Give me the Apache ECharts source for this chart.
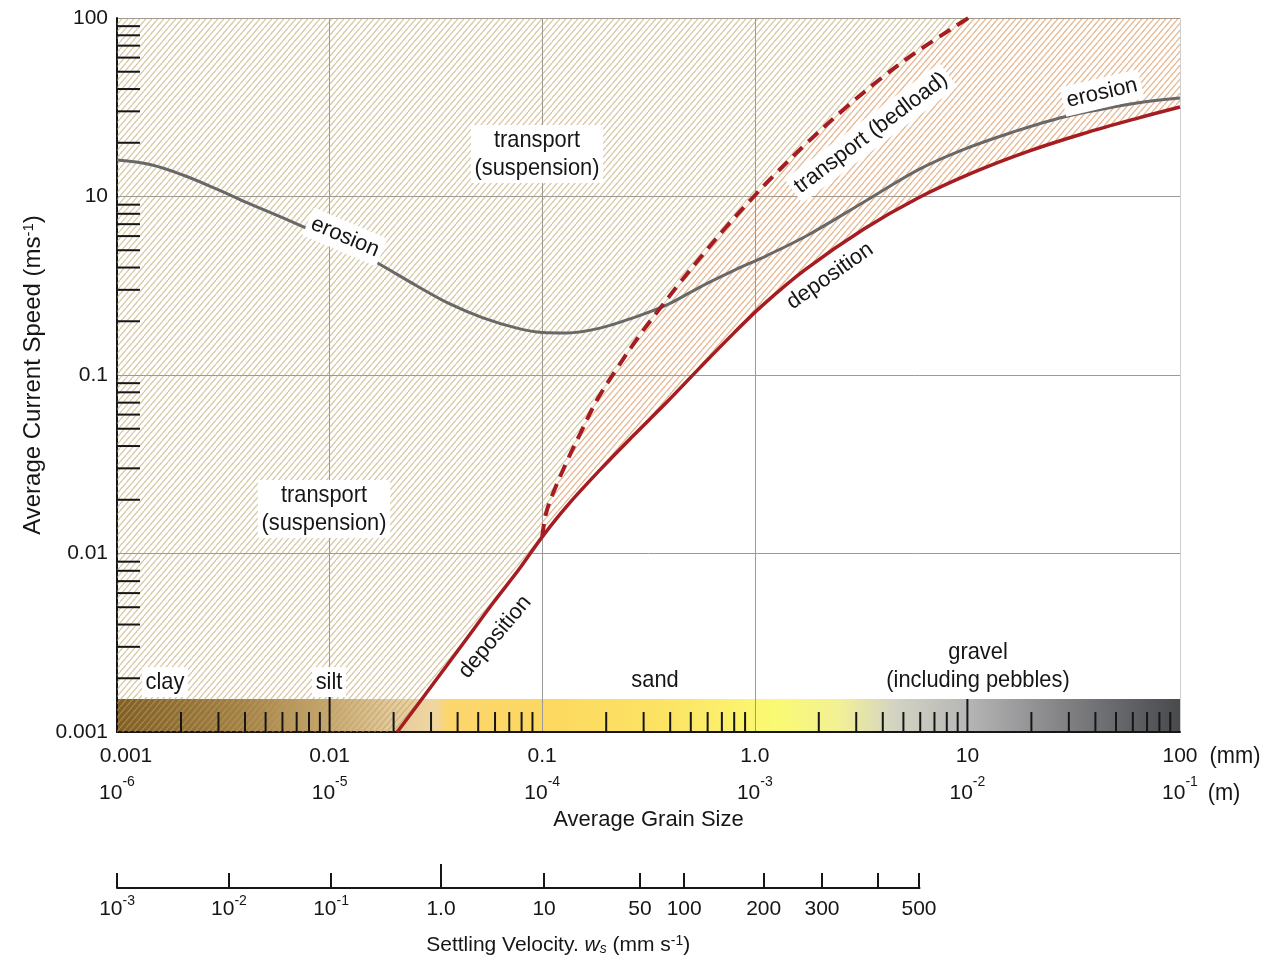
<!DOCTYPE html>
<html>
<head>
<meta charset="utf-8">
<title>Hjulström diagram</title>
<script src="https://cdn.jsdelivr.net/npm/echarts@6/dist/echarts.min.js"></script>
<style>
  html, body { margin: 0; padding: 0; background: #fff; }
  #chart { width: 1271px; height: 961px; }
</style>
</head>
<body>
<div id="chart"></div>
<script>
// grain size (mm) / current speed pairs
const erosionSize = [0.001, 0.00143, 0.00204, 0.00295, 0.00422, 0.00604, 0.00873, 0.0125, 0.0178, 0.0258, 0.0368, 0.0527, 0.0761, 0.1, 0.131, 0.187, 0.267, 0.386, 0.552, 0.79, 1.14, 1.8, 3.26, 5.86, 9.43, 15.9, 28.5, 62.8, 100];
const erosionSpeed = [1.6, 1.51, 1.32, 1.1, 0.908, 0.758, 0.625, 0.518, 0.408, 0.315, 0.25, 0.209, 0.183, 0.173, 0.172, 0.183, 0.209, 0.247, 0.311, 0.383, 0.467, 0.613, 0.932, 1.41, 1.82, 2.27, 2.79, 3.34, 3.56];

const depositSize = [0.0208, 0.0306, 0.0443, 0.0587, 0.0786, 0.1, 0.131, 0.187, 0.267, 0.386, 0.552, 0.79, 1.08, 1.72, 3.26, 5.86, 10.6, 19.3, 34.6, 62.8, 100];
const depositSpeed = [0.001, 0.00185, 0.00335, 0.00528, 0.00829, 0.0124, 0.0185, 0.0294, 0.0455, 0.0706, 0.11, 0.17, 0.244, 0.388, 0.657, 0.981, 1.36, 1.79, 2.24, 2.74, 3.17];

const bedloadSize = [0.1, 0.104, 0.112, 0.131, 0.151, 0.181, 0.225, 0.279, 0.347, 0.445, 0.552, 0.74, 0.99, 1.22, 1.8, 2.69, 3.97, 5.86, 10.1];
const bedloadSpeed = [0.0124, 0.0166, 0.0215, 0.033, 0.047, 0.0724, 0.109, 0.159, 0.225, 0.329, 0.452, 0.683, 1.0, 1.3, 2.05, 3.16, 4.64, 6.54, 10];

// axis ticks and labels
const grainMm = ['0.001', '0.01', '0.1', '1.0', '10', '100'];
const grainMExp = ['-6', '-5', '-4', '-3', '-2', '-1'];
const speedLabels = ['0.001', '0.01', '0.1', '10', '100'];
const speedDecades = [0.001, 0.01, 0.1, 1];
const grainDecades = [0.001, 0.01, 0.1, 1, 10];
const minorSteps = [2, 3, 4, 5, 6, 7, 8, 9];
const grainTallTicks = [0.01, 10];

// settling velocity scale, placed against grain size
const settleGrain = [0.001, 0.00336, 0.01015, 0.0334, 0.102, 0.288, 0.465, 1.10, 2.07, 3.80, 5.92];
const settleText = ['10', '10', '10', '1.0', '10', '50', '100', '200', '300', '', '500'];
const settleExp = ['-3', '-2', '-1', '', '', '', '', '', '', '', ''];
const settleTallTick = [0.0334];

const FONT = '"Liberation Sans", Arial, sans-serif';
const INK = '#161616';

function hatch(color, w, h, lw) {
  const c = document.createElement('canvas');
  c.width = w; c.height = h;
  const ctx = c.getContext('2d');
  ctx.strokeStyle = color;
  ctx.lineWidth = lw;
  for (let k = -1; k <= 1; k++) {
    ctx.beginPath();
    ctx.moveTo(k * w, h);
    ctx.lineTo(k * w + w, 0);
    ctx.stroke();
  }
  return { image: c, repeat: 'repeat' };
}
const khakiHatch = hatch('rgba(185,160,100,0.58)', 6, 7, 1.3);
const orangeHatch = hatch('rgba(210,135,70,0.6)', 6, 7, 1.3);

const pairs = (xs, ys) => xs.map((x, i) => [x, ys[i]]);
const erosion = pairs(erosionSize, erosionSpeed);
const deposit = pairs(depositSize, depositSpeed);
const bedload = pairs(bedloadSize, bedloadSpeed);
const junction = depositSize.indexOf(0.1);

// hatched regions
const suspensionRegion = [[0.001, 0.001], [0.001, 10]]
  .concat(bedload.slice().reverse())
  .concat(deposit.slice(0, junction + 1).reverse());
const bedloadRegion = bedload
  .concat([[100, 10], [100, depositSpeed[depositSpeed.length - 1]]])
  .concat(deposit.slice(junction).reverse());

function regionSeries(points, fill) {
  return {
    type: 'custom', z: 1, silent: true, clip: true,
    data: [[0.01, 0.01]],
    renderItem: (params, api) => ({
      type: 'polygon',
      shape: { points: points.map(p => api.coord(p)) },
      style: { fill: fill, stroke: null }
    })
  };
}

const chart = echarts.init(document.getElementById('chart'), null, { renderer: 'canvas' });

const supStyle = { fontSize: 14, fontFamily: FONT, color: INK, verticalAlign: 'top' };

const annotations = [
  { text: 'transport\n(suspension)', x: 537, y: 154, rot: 0, bg: true },
  { text: 'transport\n(suspension)', x: 324, y: 509, rot: 0, bg: true },
  { text: 'erosion', x: 345, y: 237, rot: -23, bg: true },
  { text: 'transport (bedload)', x: 871, y: 133, rot: 37, bg: true },
  { text: 'erosion', x: 1102, y: 93, rot: 13, bg: true },
  { text: 'deposition', x: 830, y: 276, rot: 35, bg: false },
  { text: 'deposition', x: 495, y: 637, rot: 50, bg: false },
  { text: 'clay', x: 165, y: 682, rot: 0, bg: true },
  { text: 'silt', x: 329, y: 682, rot: 0, bg: true },
  { text: 'sand', x: 655, y: 680, rot: 0, bg: false },
  { text: 'gravel\n(including pebbles)', x: 978, y: 666, rot: 0, bg: false },
  { text: '(mm)', x: 1235, y: 756, rot: 0, bg: false },
  { text: '(m)', x: 1224, y: 793, rot: 0, bg: false }
];

const option = {
  animation: false,
  backgroundColor: '#fff',
  textStyle: { fontFamily: FONT, color: INK },
  grid: [
    { left: 117, right: 91, top: 18, bottom: 229, outerBoundsMode: 'none' },
    { left: 117, width: 802.5, top: 870, height: 18, outerBoundsMode: 'none' }
  ],
  xAxis: [
    {
      type: 'log', logBase: 10, min: 0.001, max: 100, gridIndex: 0,
      axisLine: { show: true, lineStyle: { color: INK, width: 2 } },
      axisTick: { show: false },
      splitLine: {
        show: true,
        lineStyle: { color: ['#9a9a9a', '#9a9a9a', '#9a9a9a', '#9a9a9a', 'rgba(0,0,0,0)', '#cfcfcf'], width: 1 }
      },
      axisLabel: {
        margin: 6,
        formatter: v => {
          const i = Math.round(Math.log10(v)) + 3;
          return (i === 0 ? '{f|' : '{a|') + grainMm[i] + '}\n{a|10}{e|' + grainMExp[i] + '}';
        },
        rich: {
          a: { fontSize: 21, lineHeight: 37, fontFamily: FONT, color: INK },
          f: { fontSize: 21, lineHeight: 37, fontFamily: FONT, color: INK, padding: [0, 0, 0, 18] },
          e: Object.assign({ lineHeight: 28 }, supStyle)
        }
      },
      name: 'Average Grain Size', nameLocation: 'middle', nameGap: 77, nameMoveOverlap: false,
      nameTextStyle: { fontSize: 22, color: INK, fontFamily: FONT }
    },
    {
      type: 'log', logBase: 10, min: 0.000999, max: 5.95, gridIndex: 1,
      axisLine: { show: true, lineStyle: { color: INK, width: 2 } },
      axisTick: { show: true, inside: true, length: 15, customValues: settleGrain, lineStyle: { color: INK, width: 2 } },
      splitLine: { show: false },
      axisLabel: {
        margin: 6,
        customValues: settleGrain.filter((g, i) => settleText[i] !== ''),
        formatter: v => {
          let best = 0;
          settleGrain.forEach((g, i) => {
            if (Math.abs(Math.log10(g) - Math.log10(v)) < Math.abs(Math.log10(settleGrain[best]) - Math.log10(v))) best = i;
          });
          return '{a|' + settleText[best] + '}' + (settleExp[best] ? '{e|' + settleExp[best] + '}' : '');
        },
        rich: {
          a: { fontSize: 21, lineHeight: 30, fontFamily: FONT, color: INK },
          e: Object.assign({ lineHeight: 22 }, supStyle)
        }
      },
      name: 'Settling Velocity. {w|w}{s|s} (mm s{e|-1})',
      nameLocation: 'middle', nameGap: 46, nameMoveOverlap: false,
      nameTextStyle: {
        fontSize: 21, color: INK, fontFamily: FONT, padding: [0, 0, 0, 80],
        rich: {
          w: { fontSize: 21, fontStyle: 'italic', fontFamily: FONT, color: INK },
          s: { fontSize: 14, fontStyle: 'italic', fontFamily: FONT, color: INK, verticalAlign: 'bottom', lineHeight: 18 },
          e: Object.assign({ lineHeight: 22 }, supStyle)
        }
      }
    }
  ],
  yAxis: [
    {
      type: 'log', logBase: 10, min: 0.001, max: 10, gridIndex: 0,
      axisLine: { show: true, lineStyle: { color: INK, width: 2 } },
      axisTick: { show: false },
      splitLine: { show: true, lineStyle: { color: '#9a9a9a', width: 1 } },
      axisLabel: {
        margin: 9, fontSize: 21, color: INK, fontFamily: FONT,
        formatter: v => speedLabels[Math.round(Math.log10(v)) + 3]
      },
      name: 'Average Current Speed (ms{e|-1})', nameLocation: 'middle', nameGap: 72, nameMoveOverlap: false,
      nameTextStyle: {
        fontSize: 24, color: INK, fontFamily: FONT,
        rich: { e: { fontSize: 15, fontFamily: FONT, color: INK, verticalAlign: 'top', lineHeight: 24 } }
      }
    },
    { type: 'value', gridIndex: 1, show: false, min: 0, max: 1 }
  ],
  series: [
    // colour bar of the size classes
    {
      type: 'custom', z: -1, silent: true, data: [[0.01, 0.01]],
      renderItem: (params, api) => {
        const p0 = api.coord([0.001, 0.001]);
        const p1 = api.coord([100, 0.001]);
        return {
          type: 'rect',
          shape: { x: p0[0], y: p0[1] - 33, width: p1[0] - p0[0], height: 33 },
          style: {
            fill: new echarts.graphic.LinearGradient(0, 0, 1, 0, [
              { offset: 0, color: 'rgb(128,94,38)' },
              { offset: 0.12, color: 'rgb(165,130,70)' },
              { offset: 0.2, color: 'rgb(200,168,112)' },
              { offset: 0.26, color: 'rgb(228,203,158)' },
              { offset: 0.3, color: 'rgb(240,214,160)' },
              { offset: 0.31, color: 'rgb(252,214,110)' },
              { offset: 0.4, color: 'rgb(252,216,96)' },
              { offset: 0.52, color: 'rgb(252,228,100)' },
              { offset: 0.62, color: 'rgb(250,250,115)' },
              { offset: 0.68, color: 'rgb(242,240,150)' },
              { offset: 0.73, color: 'rgb(212,212,195)' },
              { offset: 0.8, color: 'rgb(182,182,182)' },
              { offset: 0.9, color: 'rgb(125,125,128)' },
              { offset: 1, color: 'rgb(72,74,78)' }
            ])
          }
        };
      }
    },
    regionSeries(suspensionRegion, khakiHatch),
    regionSeries(bedloadRegion, orangeHatch),
    {
      name: 'erosion', type: 'line', data: erosion, smooth: 0.35, showSymbol: false, z: 3,
      lineStyle: { color: '#686868', width: 3 }
    },
    {
      name: 'deposition', type: 'line', data: deposit, smooth: 0.35, showSymbol: false, z: 3,
      lineStyle: { color: '#a51d20', width: 3.5 }
    },
    {
      name: 'bedload', type: 'line', data: bedload, smooth: 0.35, showSymbol: false, z: 3,
      lineStyle: { color: '#a51d20', width: 4, type: [13, 8] }
    },
    // minor ticks drawn inside the plot on both axes
    {
      type: 'custom', z: 4, silent: true, data: [[0.01, 0.01]],
      renderItem: (params, api) => {
        const children = [];
        const stroke = { stroke: INK, lineWidth: 2 };
        speedDecades.forEach(d => minorSteps.forEach(m => {
          const p = api.coord([0.001, d * m]);
          children.push({ type: 'line', shape: { x1: p[0], y1: p[1], x2: p[0] + 23, y2: p[1] }, style: stroke });
        }));
        grainDecades.forEach(d => minorSteps.forEach(m => {
          const p = api.coord([d * m, 0.001]);
          children.push({ type: 'line', shape: { x1: p[0], y1: p[1], x2: p[0], y2: p[1] - 20 }, style: stroke });
        }));
        grainTallTicks.forEach((g, i) => {
          const p = api.coord([g, 0.001]);
          children.push({ type: 'line', shape: { x1: p[0], y1: p[1], x2: p[0], y2: p[1] - (i === 0 ? 39 : 33) }, style: stroke });
        });
        return { type: 'group', children: children };
      }
    },
    // taller tick at 1.0 on the settling velocity scale
    {
      type: 'custom', xAxisIndex: 1, yAxisIndex: 1, z: 4, silent: true, clip: false,
      data: settleTallTick.map(g => [g, 0]),
      renderItem: (params, api) => {
        const p = api.coord([api.value(0), 0]);
        return { type: 'line', shape: { x1: p[0], y1: p[1], x2: p[0], y2: p[1] - 24 }, style: { stroke: INK, lineWidth: 2 } };
      }
    }
  ],
  graphic: annotations.map(a => ({
    type: 'text', x: a.x, y: a.y, rotation: a.rot * Math.PI / 180, z: 100, silent: true,
    scaleX: a.rot === 0 ? 0.91 : 1,
    style: {
      text: a.text, fill: INK, font: (a.rot === 0 ? '24px ' : '22px ') + FONT,
      align: 'center', verticalAlign: 'middle', textAlign: 'center', textVerticalAlign: 'middle',
      lineHeight: 28,
      backgroundColor: a.bg ? '#fff' : null,
      padding: a.bg ? [1, 4] : 0
    }
  }))
};

chart.setOption(option);
</script>
</body>
</html>
